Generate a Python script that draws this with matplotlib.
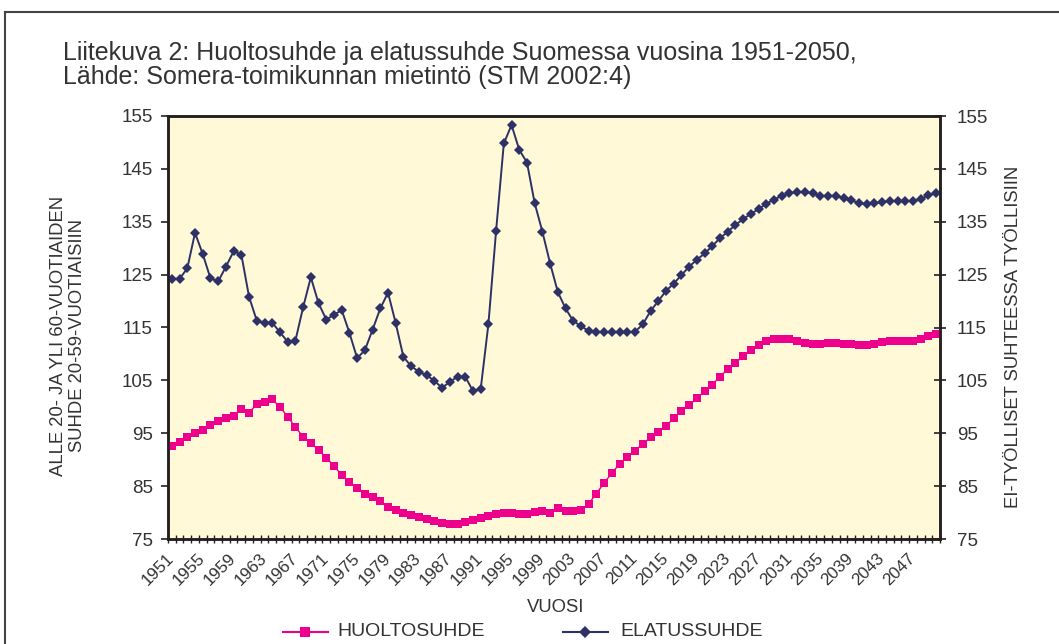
import matplotlib
matplotlib.use("Agg")
import matplotlib.pyplot as plt
from matplotlib.lines import Line2D
import numpy as np

plt.rcParams['font.family'] = ['Liberation Sans', 'DejaVu Sans']

years = list(range(1951, 2051))

huoltosuhde = [
    92.6, 93.4, 94.2, 95.0, 95.7, 96.6, 97.4, 97.8, 98.3, 99.6,
    98.9, 100.5, 100.9, 101.4, 100.0, 98.1, 96.2, 94.3, 93.2, 91.8,
    90.4, 88.8, 87.1, 85.8, 84.7, 83.6, 82.9, 82.2, 81.0, 80.5,
    80.0, 79.5, 79.2, 78.8, 78.4, 78.1, 77.8, 77.8, 78.2, 78.5,
    78.9, 79.4, 79.7, 79.9, 79.9, 79.8, 79.8, 80.1, 80.3, 80.0,
    80.9, 80.3, 80.3, 80.5, 81.7, 83.6, 85.6, 87.5, 89.2, 90.6,
    91.7, 93.0, 94.2, 95.3, 96.4, 97.8, 99.2, 100.3, 101.6, 103.0,
    104.2, 105.7, 107.1, 108.3, 109.6, 110.7, 111.7, 112.4, 112.8, 112.9,
    112.8, 112.5, 112.0, 111.8, 111.8, 112.0, 112.0, 111.8, 111.8, 111.7,
    111.7, 111.8, 112.2, 112.4, 112.5, 112.5, 112.5, 112.8, 113.3, 113.7,
]

elatussuhde = [
    124.2, 124.2, 126.2, 132.9, 128.9, 124.3, 123.7, 126.5, 129.4, 128.8,
    120.8, 116.3, 115.8, 115.9, 114.1, 112.3, 112.5, 118.8, 124.5, 119.6,
    116.5, 117.4, 118.3, 114.0, 109.2, 110.7, 114.6, 118.6, 121.6, 115.8,
    109.4, 107.7, 106.6, 106.0, 104.9, 103.6, 104.7, 105.7, 105.7, 103.0,
    103.3, 115.6, 133.3, 149.8, 153.3, 148.6, 146.2, 138.5, 133.1, 127.1,
    121.7, 118.6, 116.2, 115.3, 114.3, 114.2, 114.1, 114.1, 114.1, 114.1,
    114.2, 115.6, 118.1, 120.0, 121.9, 123.3, 124.9, 126.5, 127.8, 129.0,
    130.4, 131.9, 133.1, 134.4, 135.5, 136.5, 137.4, 138.4, 139.2, 139.9,
    140.4, 140.6, 140.6, 140.4, 139.9, 139.9, 139.9, 139.5, 139.1, 138.5,
    138.3, 138.5, 138.7, 138.9, 138.9, 138.9, 138.9, 139.3, 140.0, 140.4,
]

y_ticks = [75, 85, 95, 105, 115, 125, 135, 145, 155]
x_label_years = list(range(1951, 2050, 4))

PINK = '#EC008C'
NAVY = '#2D3166'
BG = '#FFF9D7'
TXT = '#333333'
SPINE = '#231F20'

W, H = 1059, 644
fig = plt.figure(figsize=(W / 100, H / 100), dpi=100)
fig.patch.set_facecolor('white')

def fx(px):
    return px / W

def fy(py):
    return 1 - py / H

# outer frame
fig.add_artist(Line2D([fx(5), 1.0], [fy(12), fy(12)], color='#444444', lw=1.5, transform=fig.transFigure))
fig.add_artist(Line2D([fx(5), fx(5)], [fy(12), 0.0], color='#444444', lw=1.5, transform=fig.transFigure))

ax_l, ax_r, ax_t, ax_b = 168, 940, 116, 539
ax = fig.add_axes([fx(ax_l), fy(ax_b), (ax_r - ax_l) / W, (ax_b - ax_t) / H])
ax.set_facecolor(BG)

x = np.arange(len(years))
ax.plot(x, huoltosuhde, color=PINK, lw=1.0, marker='s', markersize=6.2,
        markeredgewidth=0, zorder=3)
ax.plot(x, elatussuhde, color=NAVY, lw=1.4, marker='D', markersize=4.6,
        markeredgewidth=0, zorder=4)

ax.set_xlim(-0.5, len(years) - 0.5)
ax.set_ylim(75, 155)

# x ticks: marks between categories, labels every 4 years
ax.set_xticks(np.arange(-0.5, len(years), 1.0))
ax.set_xticklabels([])
lab_pos = [years.index(y) for y in x_label_years]
ax.set_xticks(lab_pos, minor=True)
ax.set_xticklabels([str(y) for y in x_label_years], minor=True, rotation=45,
                   ha='right', va='center', rotation_mode='anchor',
                   fontsize=12.3, color=TXT)
ax.tick_params(axis='x', which='major', direction='inout', length=6, width=1.0, color=SPINE)
ax.tick_params(axis='x', which='minor', length=0, pad=12)

ax.set_yticks(y_ticks)
ax.set_yticklabels([str(v) for v in y_ticks], fontsize=13.5, color=TXT)
ax.tick_params(axis='y', direction='out', length=5, width=1.2, color=SPINE, pad=6)

for s in ax.spines.values():
    s.set_color(SPINE)
    s.set_linewidth(1.8)

ax2 = ax.twinx()
ax2.set_ylim(75, 155)
ax2.set_yticks(y_ticks)
ax2.set_yticklabels([str(v) for v in y_ticks], fontsize=13.5, color=TXT)
ax2.tick_params(axis='y', direction='inout', length=9, width=1.2, color=SPINE, pad=7.5)
for s in ax2.spines.values():
    s.set_color(SPINE)
    s.set_linewidth(1.8)

# titles
fig.text(fx(63), fy(60), 'Liitekuva 2: Huoltosuhde ja elatussuhde Suomessa vuosina 1951-2050,',
         fontsize=18, color=TXT, ha='left', va='baseline')
fig.text(fx(63), fy(84), 'Lähde: Somera-toimikunnan mietintö (STM 2002:4)',
         fontsize=18, color=TXT, ha='left', va='baseline')

# axis labels
fig.text(fx(68), fy(336), 'ALLE 20- JA YLI 60-VUOTIAIDEN\nSUHDE 20-59-VUOTIAISIIN',
         rotation=90, ha='center', va='center', multialignment='center',
         fontsize=13.3, color=TXT, linespacing=1.1)
fig.text(fx(1014), fy(337), 'EI-TYÖLLISET SUHTEESSA TYÖLLISIIN',
         rotation=90, ha='center', va='center', fontsize=13.3, color=TXT)
fig.text(fx(556), fy(608), 'VUOSI', ha='center', va='center', fontsize=13.3, color=TXT)

# legend (manual)
ly = fy(632)
fig.add_artist(Line2D([fx(283), fx(328)], [ly, ly], color=PINK, lw=1.5, transform=fig.transFigure))
fig.add_artist(Line2D([fx(305)], [ly], color=PINK, marker='s', markersize=7, markeredgewidth=0,
                      transform=fig.transFigure))
fig.text(fx(337), ly, 'HUOLTOSUHDE', ha='left', va='center', fontsize=14, color=TXT)
fig.add_artist(Line2D([fx(563), fx(608)], [ly, ly], color=NAVY, lw=1.5, transform=fig.transFigure))
fig.add_artist(Line2D([fx(585)], [ly], color=NAVY, marker='D', markersize=6, markeredgewidth=0,
                      transform=fig.transFigure))
fig.text(fx(620), ly, 'ELATUSSUHDE', ha='left', va='center', fontsize=14, color=TXT)

fig.savefig('out.png', dpi=100)
